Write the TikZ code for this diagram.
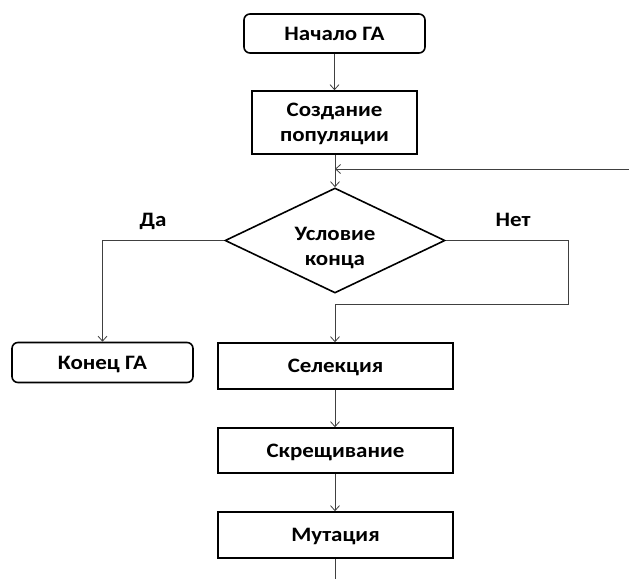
\documentclass[tikz,border=0pt]{standalone}
\usepackage{fontspec}
\setmainfont{Carlito}[FakeStretch=1.12]
\usetikzlibrary{shapes.geometric,arrows.meta}
\begin{document}
\begin{tikzpicture}[x=1pt,y=-1pt,
  txt/.style={font=\bfseries\fontsize{20.5}{25}\selectfont, align=center, inner sep=0pt, text height=13.2pt, text depth=0pt},
  twoline/.style={text height=38.2pt, text depth=0pt},
  box/.style={txt, draw=black, line width=1.6pt},
  rbox/.style={box, rounded corners=6pt},
  conn/.style={draw=black!75, line width=0.8pt, -{Straight Barb[length=5pt,width=9pt]}},
  line/.style={draw=black!75, line width=0.8pt}]
\useasboundingbox (0,0) rectangle (629,579);
\node[rbox, minimum width=181pt, minimum height=39pt] (start) at (334.5,33.5) {Начало ГА};
\node[box, twoline, minimum width=165pt, minimum height=63pt] (create) at (334.5,122.5) {Создание\\популяции};
\node[diamond, draw=black, line width=1.6pt, minimum width=220pt, minimum height=105pt, inner sep=0pt, aspect=2.1] (cond) at (335,240.5) {};
\node[txt, twoline] (condtxt) at (335,246.5) {Условие\\конца};
\node[rbox, minimum width=181pt, minimum height=40pt] (end) at (102.5,362.5) {Конец ГА};
\node[box, minimum width=235pt, minimum height=46pt] (sel) at (335.5,366) {Селекция};
\node[box, minimum width=235pt, minimum height=45pt] (cross) at (335.5,450.5) {Скрещивание};
\node[box, minimum width=235pt, minimum height=46pt] (mut) at (335.5,535) {Мутация};
\node[txt] (yes) at (153,220) {Да};
\node[txt] (nolab) at (513,220) {Нет};
\coordinate (loopin) at (629,169);
\coordinate (no) at (568,304);
\coordinate (bot) at (335,579);
\draw[conn] (start.south) -- (start.south |- create.north);
\draw[conn] (cond.north |- create.south) -- (cond.north);
\draw[conn] (loopin) -- (loopin -| cond.north);
\draw[conn] (cond.east) -| (no) -- (no -| cond.south) -- (cond.south |- sel.north);
\draw[conn] (cond.west) -| (end.north);
\draw[conn] (cond.south |- sel.south) -- (cond.south |- cross.north);
\draw[conn] (cond.south |- cross.south) -- (cond.south |- mut.north);
\draw[line] (cond.south |- mut.south) -- (bot);
\end{tikzpicture}
\end{document}
